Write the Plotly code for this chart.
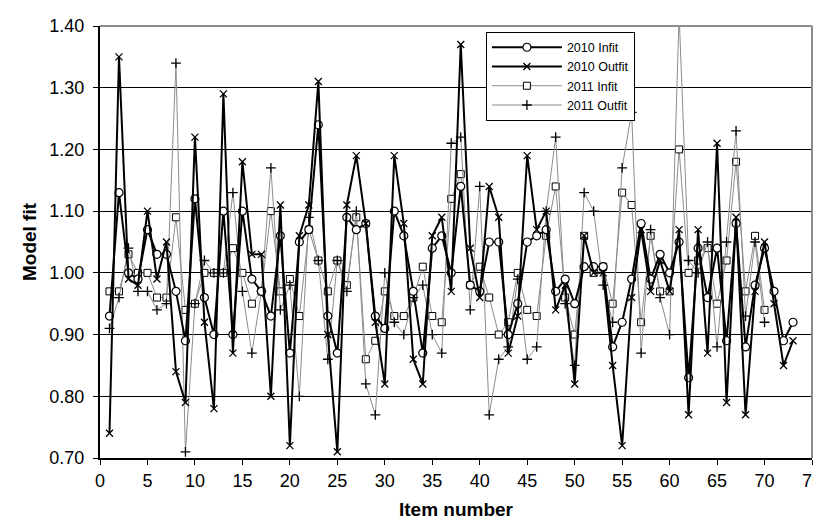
import plotly.graph_objects as go

items_2010 = list(range(1, 74))
items_2011 = list(range(1, 71))

infit_2010 = [0.93, 1.13, 1.00, 0.99, 1.07, 1.03, 1.03, 0.97, 0.89, 1.12,
              0.96, 0.90, 1.10, 0.90, 1.10, 0.99, 0.97, 0.93, 1.06, 0.87,
              1.05, 1.07, 1.24, 0.93, 0.87, 1.09, 1.07, 1.08, 0.93, 0.91,
              1.10, 1.06, 0.97, 0.87, 1.04, 1.06, 1.00, 1.14, 0.98, 0.97,
              1.05, 1.05, 0.90, 0.95, 1.05, 1.06, 1.07, 0.97, 0.99, 0.95,
              1.01, 1.01, 1.01, 0.88, 0.92, 0.99, 1.08, 0.99, 1.03, 1.00,
              1.05, 0.83, 1.04, 0.96, 1.04, 0.89, 1.08, 0.88, 0.98, 1.04,
              0.97, 0.89, 0.92]

outfit_2010 = [0.74, 1.35, 0.99, 0.98, 1.10, 0.99, 1.05, 0.84, 0.79, 1.22,
               0.92, 0.78, 1.29, 0.87, 1.18, 1.03, 1.03, 0.80, 1.11, 0.72,
               1.06, 1.11, 1.31, 0.90, 0.71, 1.11, 1.19, 1.08, 0.92, 0.82,
               1.19, 1.08, 0.86, 0.82, 1.06, 1.09, 0.97, 1.37, 1.04, 0.96,
               1.14, 1.09, 0.87, 0.93, 1.19, 1.07, 1.10, 0.94, 0.98, 0.82,
               1.06, 1.00, 1.00, 0.85, 0.72, 0.96, 1.07, 0.97, 1.02, 0.97,
               1.07, 0.77, 1.07, 0.87, 1.21, 0.79, 1.09, 0.77, 0.97, 1.05,
               0.95, 0.85, 0.89]

infit_2011 = [0.97, 0.97, 1.03, 1.00, 1.00, 0.96, 0.96, 1.09, 0.94, 0.95,
              1.00, 1.00, 1.00, 1.04, 1.00, 0.95, 0.97, 1.10, 0.97, 0.99,
              0.93, 1.07, 1.02, 0.97, 1.02, 0.98, 1.09, 0.86, 0.89, 0.97,
              0.93, 0.93, 0.96, 1.01, 0.93, 0.92, 1.12, 1.16, 0.98, 1.01,
              0.96, 0.90, 0.92, 1.00, 0.94, 0.93, 1.06, 1.14, 0.96, 0.90,
              1.06, 1.00, 1.01, 0.95, 1.13, 1.11, 0.92, 1.06, 0.97, 0.97,
              1.20, 1.00, 1.02, 1.04, 0.95, 1.02, 1.18, 0.97, 1.06, 0.94]

outfit_2011 = [0.91, 0.96, 1.04, 0.97, 0.97, 0.94, 0.95, 1.34, 0.71, 0.95,
               1.02, 1.00, 1.00, 1.13, 0.97, 0.87, 0.97, 1.17, 0.94, 0.98,
               0.80, 1.09, 1.02, 0.86, 1.02, 0.97, 1.10, 0.82, 0.77, 1.00,
               0.92, 0.90, 0.96, 0.98, 0.90, 0.87, 1.21, 1.22, 0.94, 1.14,
               0.77, 0.86, 0.88, 0.99, 0.86, 0.88, 1.10, 1.22, 0.95, 0.85,
               1.13, 1.10, 0.98, 0.92, 1.17, 1.26, 0.87, 1.07, 0.96, 0.90,
               1.42, 1.02, 1.00, 1.05, 0.88, 1.05, 1.23, 0.93, 1.05, 0.92]

x_ticks = list(range(0, 80, 5))
y_ticks = [0.70, 0.80, 0.90, 1.00, 1.10, 1.20, 1.30, 1.40]

FONT = "Liberation Sans, Arial, sans-serif"

fig = go.Figure()

fig.add_trace(go.Scatter(
    x=items_2011, y=infit_2011, name="2011 Infit", mode="lines+markers",
    line=dict(color="#8c8c8c", width=1),
    marker=dict(symbol="square", size=7, color="white",
                line=dict(color="black", width=1)),
    legendrank=3))
fig.add_trace(go.Scatter(
    x=items_2011, y=outfit_2011, name="2011 Outfit", mode="lines+markers",
    line=dict(color="#8c8c8c", width=1),
    marker=dict(symbol="cross-thin", size=7, color="black",
                line=dict(color="black", width=1.3)),
    legendrank=4))
fig.add_trace(go.Scatter(
    x=items_2010, y=infit_2010, name="2010 Infit", mode="lines+markers",
    line=dict(color="black", width=2),
    marker=dict(symbol="circle", size=8, color="white",
                line=dict(color="black", width=1.2)),
    legendrank=1))
fig.add_trace(go.Scatter(
    x=items_2010, y=outfit_2010, name="2010 Outfit", mode="lines+markers",
    line=dict(color="black", width=2),
    marker=dict(symbol="x-thin", size=7, color="black",
                line=dict(color="black", width=1.3)),
    legendrank=2))

# grey frame on top and right of the plot area
fig.add_shape(type="line", xref="paper", yref="paper", x0=0, x1=1, y0=1, y1=1,
              line=dict(color="#8c8c8c", width=2), layer="above")
fig.add_shape(type="line", xref="paper", yref="paper", x0=1, x1=1, y0=0, y1=1,
              line=dict(color="#8c8c8c", width=2), layer="above")

fig.update_layout(
    width=821, height=527,
    margin=dict(l=92, r=17, t=18, b=77),
    paper_bgcolor="white", plot_bgcolor="white",
    font=dict(family=FONT, color="black", size=18),
    showlegend=True,
    legend=dict(x=0.542, y=0.987, xanchor="left", yanchor="top",
                bgcolor="white", bordercolor="black", borderwidth=1,
                font=dict(family=FONT, size=12.5, color="black"),
                itemwidth=70, tracegroupgap=0),
    xaxis=dict(range=[0, 75], tickvals=x_ticks, showgrid=False,
               showline=True, linecolor="black", linewidth=2,
               ticks="outside", ticklen=5, tickcolor="black", tickwidth=1,
               ticklabelstandoff=0, ticklabeloverflow="allow", zeroline=False,
               automargin=False,
               tickfont=dict(family=FONT, size=18, color="black"),
               title=dict(text="<b>Item number</b>", standoff=13,
                          font=dict(family=FONT, size=19, color="black"))),
    yaxis=dict(range=[0.70, 1.40], tickvals=y_ticks, tickformat=".2f",
               showgrid=True, gridcolor="black", gridwidth=1,
               showline=True, linecolor="black", linewidth=2,
               ticks="outside", ticklen=5, tickcolor="black", tickwidth=1,
               ticklabelstandoff=5, zeroline=False, automargin=False,
               tickfont=dict(family=FONT, size=18, color="black"),
               title=dict(text="<b>Model fit</b>", standoff=8,
                          font=dict(family=FONT, size=19, color="black"))),
)

fig.write_html("out.html")
